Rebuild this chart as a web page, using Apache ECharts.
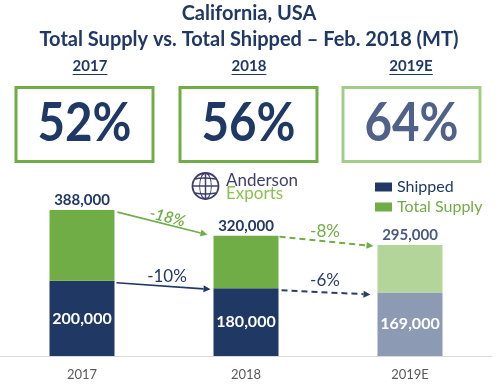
<!DOCTYPE html>
<html><head><meta charset="utf-8">
<script src="https://cdn.jsdelivr.net/npm/echarts@6/dist/echarts.min.js"></script>
<style>html,body{margin:0;padding:0;background:#fff}#c{width:498px;height:387px}</style>
</head><body><div id="c"></div>
<script>
const categories = ['2017', '2018', '2019E'];
const shipped = [200000, 180000, 169000];
const totalSupply = [388000, 320000, 295000];
const ratioLabels = ['52%', '56%', '64%'];
const supplyChange = ['-18%', '-8%'];
const shippedChange = ['-10%', '-6%'];
const titleLines = ['California, USA', 'Total Supply vs. Total Shipped \u2013 Feb. 2018 (MT)'];

const NAVY = '#203864', GREEN = '#70AD47', LGREEN = '#B3D59A', GRAYNAVY = '#8D9AB3';
const FF = 'Lato, "Open Sans", sans-serif';
const fmt = v => v.toLocaleString('en-US');

const chart = echarts.init(document.getElementById('c'), null, {renderer: 'canvas'});
chart.setOption({
  animation: false,
  textStyle: {fontFamily: FF},
  grid: {left: 0, right: 6, top: 168, bottom: 31, containLabel: false},
  xAxis: {type: 'category', data: categories,
    axisLine: {lineStyle: {color: '#D9D9D9', width: 1}}, axisTick: {show: false},
    axisLabel: {color: '#595959', fontSize: 13, margin: 12, fontFamily: FF}},
  yAxis: {type: 'value', min: 0, max: 500000, show: false, splitLine: {show: false}},
  legend: {orient: 'vertical', left: 375, top: 179, padding: 0, itemWidth: 17, itemHeight: 9, itemGap: 4,
    icon: 'rect', textStyle: {fontSize: 16, fontFamily: FF},
    data: [{name: 'Shipped', textStyle: {color: NAVY}}, {name: 'Total Supply', textStyle: {color: GREEN}}]},
  series: [
    {name: 'Shipped', type: 'bar', stack: 't', barWidth: 65, itemStyle: {color: NAVY},
      data: shipped.map((v, i) => ({value: v, itemStyle: {color: i === 2 ? GRAYNAVY : NAVY}})),
      label: {show: true, position: 'inside', color: '#fff', fontWeight: 'bold', fontSize: 16, fontFamily: FF,
        formatter: p => fmt(p.value)}},
    {name: 'Total Supply', type: 'bar', stack: 't', barWidth: 65, itemStyle: {color: GREEN},
      data: totalSupply.map((v, i) => ({value: v - shipped[i], itemStyle: {color: i === 2 ? LGREEN : GREEN},
        label: {color: i === 2 ? '#4A5A7E' : NAVY}})),
      label: {show: true, position: 'top', distance: 2, fontWeight: 'bold', fontSize: 15, fontFamily: FF,
        formatter: p => fmt(totalSupply[p.dataIndex])}}
  ]
});

const pt = (i, v) => chart.convertToPixel({gridIndex: 0}, [i, v]);
const g = [];
function txt(text, x, y, font, fill, extra) {
  return Object.assign({type: 'text', x: x, y: y, silent: true,
    style: {text: text, x: 0, y: 0, font: font, fill: fill, align: 'center', verticalAlign: 'middle',
      textAlign: 'center', textVerticalAlign: 'middle'}}, extra || {});
}
// titles
g.push(txt(titleLines[0], 249, 14, 'bold 20px ' + FF, NAVY));
g.push(txt(titleLines[1], 249, 40, 'bold 20px ' + FF, NAVY));
// year headers with underline, and boxes
const ctx = document.createElement('canvas').getContext('2d');
const boxCx = [84.5, 248.5, 411.5];
const headCx = [90, 249, 411];
ctx.font = 'bold 15px ' + FF;
categories.forEach((c, i) => {
  g.push(txt(c, headCx[i], 66, 'bold 15px ' + FF, NAVY));
  const w = ctx.measureText(c).width;
  g.push({type: 'line', silent: true, shape: {x1: headCx[i] - w / 2, y1: 74.5, x2: headCx[i] + w / 2, y2: 74.5},
    style: {stroke: NAVY, lineWidth: 1.2}});
  g.push({type: 'rect', silent: true, shape: {x: boxCx[i] - 68.5, y: 87.5, width: 137, height: 74},
    style: {fill: 'transparent', stroke: i === 2 ? '#A3CD86' : GREEN, lineWidth: 3}});
  g.push(txt(ratioLabels[i], boxCx[i], 124, 'bold 54px ' + FF, i === 2 ? '#50628A' : NAVY, {scaleX: 0.88}));
});
// logo
const LC = '#3E3F6C';
g.push({type: 'circle', silent: true, shape: {cx: 205.5, cy: 186, r: 13}, style: {fill: 'transparent', stroke: LC, lineWidth: 1.8}});
g.push({type: 'circle', silent: true, x: 205.5, y: 186, scaleX: 0.45, shape: {cx: 0, cy: 0, r: 13}, style: {fill: 'transparent', stroke: LC, lineWidth: 1.8}});
g.push({type: 'line', silent: true, shape: {x1: 205.5, y1: 173, x2: 205.5, y2: 199}, style: {stroke: LC, lineWidth: 1.5}});
g.push({type: 'line', silent: true, shape: {x1: 192.5, y1: 186, x2: 218.5, y2: 186}, style: {stroke: LC, lineWidth: 1.5}});
g.push({type: 'bezierCurve', silent: true, shape: {x1: 195, y1: 179, cpx1: 202, cpy1: 177, x2: 216, y2: 179}, style: {fill: 'none', stroke: LC, lineWidth: 1.5}});
g.push({type: 'bezierCurve', silent: true, shape: {x1: 195, y1: 193, cpx1: 205, cpy1: 195, x2: 216, y2: 193}, style: {fill: 'none', stroke: LC, lineWidth: 1.5}});
g.push({type: 'text', silent: true, x: 226, y: 181, style: {text: 'Anderson', x: 0, y: 0, font: '17px ' + FF, fill: LC, align: 'left', verticalAlign: 'middle', textAlign: 'left', textVerticalAlign: 'middle'}});
g.push({type: 'text', silent: true, x: 226, y: 194, style: {text: 'Exports', x: 0, y: 0, font: '17px ' + FF, fill: '#8CC152', align: 'left', verticalAlign: 'middle', textAlign: 'left', textVerticalAlign: 'middle'}});

// arrows
function arrow(a, b, color, dashed, width) {
  const dx = b[0] - a[0], dy = b[1] - a[1], L = Math.hypot(dx, dy), ux = dx / L, uy = dy / L;
  const hl = 7, hw = 3.5;
  const bx = b[0] - ux * hl, by = b[1] - uy * hl;
  g.push({type: 'line', silent: true, shape: {x1: a[0], y1: a[1], x2: bx, y2: by},
    style: {stroke: color, lineWidth: width, lineDash: dashed ? [6, 4] : null}});
  g.push({type: 'polygon', silent: true, shape: {points: [[b[0], b[1]], [bx - uy * hw, by + ux * hw], [bx + uy * hw, by - ux * hw]]},
    style: {fill: color}});
}
const half = 32.5;
const p0s = pt(0, totalSupply[0]), p1s = pt(1, totalSupply[1]), p2s = pt(2, totalSupply[2]);
const p0h = pt(0, shipped[0]), p1h = pt(1, shipped[1]), p2h = pt(2, shipped[2]);
const a1 = [p0s[0] + half + 3, p0s[1] + 2], b1 = [p1s[0] - half - 6, p1s[1] - 1];
arrow(a1, b1, GREEN, false, 1.6);
const ang = Math.atan2(b1[1] - a1[1], b1[0] - a1[0]);
g.push(txt(supplyChange[0], (a1[0] + b1[0]) / 2 + 5, (a1[1] + b1[1]) / 2 - 6, 'italic 600 16px ' + FF, GREEN, {rotation: -ang}));
const a2 = [p0h[0] + half + 2, p0h[1] + 2], b2 = [p1h[0] - half - 3, p1h[1] + 1];
arrow(a2, b2, NAVY, false, 1.6);
g.push(txt(shippedChange[0], 167, (a2[1] + b2[1]) / 2 - 10, '17px ' + FF, NAVY));
const a3 = [p1s[0] + half + 1, p1s[1] + 1], b3 = [p2s[0] - half - 4, p2s[1] + 1];
arrow(a3, b3, GREEN, true, 2);
g.push(txt(supplyChange[1], 325, (a3[1] + b3[1]) / 2 - 10, '17px ' + FF, GREEN));
const a4 = [p1h[0] + half + 3, p1h[1] + 2], b4 = [p2h[0] - half - 7, p2h[1] + 2];
arrow(a4, b4, '#2F3E66', true, 2);
g.push(txt(shippedChange[1], 325, (a4[1] + b4[1]) / 2 - 12, '17px ' + FF, '#2F3E66'));

chart.setOption({graphic: {elements: g}});
</script></body></html>
